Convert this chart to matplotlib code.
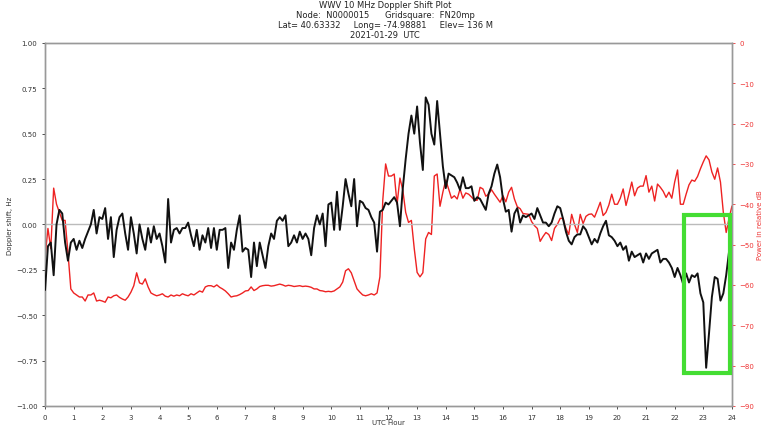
import numpy as np
import matplotlib
matplotlib.use("Agg")
import matplotlib.pyplot as plt
from matplotlib.patches import Rectangle

# ── Data (0.1 h spacing) ─────────────────────────────────────────────────────
hours = np.round(np.arange(0, 24.01, 0.1), 1)

doppler = [
    # 0
    -0.36, -0.12, -0.10, -0.28, 0.00, 0.08, 0.06, -0.10, -0.20, -0.10,
    # 1
    -0.08, -0.14, -0.09, -0.13, -0.08, -0.04, 0.00, 0.08, -0.05, 0.04,
    # 2
    0.03, 0.09, -0.08, 0.04, -0.18, -0.03, 0.04, 0.06, -0.05, -0.14,
    # 3
    0.04, -0.05, -0.16, 0.00, -0.08, -0.14, -0.02, -0.10, -0.01, -0.08,
    # 4
    -0.05, -0.12, -0.21, 0.14, -0.10, -0.03, -0.02, -0.05, -0.02, -0.02,
    # 5
    0.01, -0.06, -0.12, -0.03, -0.14, -0.06, -0.10, -0.02, -0.13, -0.02,
    # 6
    -0.14, -0.03, -0.03, -0.02, -0.24, -0.10, -0.14, -0.03, 0.05, -0.15,
    # 7
    -0.13, -0.14, -0.29, -0.10, -0.23, -0.10, -0.17, -0.24, -0.12, -0.05,
    # 8
    -0.08, 0.02, 0.04, 0.02, 0.05, -0.12, -0.10, -0.06, -0.10, -0.04,
    # 9
    -0.08, -0.05, -0.08, -0.17, -0.02, 0.05, 0.00, 0.06, -0.12, 0.11,
    # 10
    0.12, -0.03, 0.18, -0.03, 0.10, 0.25, 0.17, 0.10, 0.25, -0.01,
    # 11
    0.13, 0.12, 0.09, 0.08, 0.04, 0.01, -0.15, 0.07, 0.08, 0.12,
    # 12
    0.11, 0.13, 0.15, 0.12, -0.01, 0.20, 0.36, 0.50, 0.60, 0.50,
    # 13
    0.65, 0.45, 0.30, 0.70, 0.66, 0.50, 0.44, 0.68, 0.50, 0.32,
    # 14
    0.20, 0.28, 0.27, 0.26, 0.23, 0.19, 0.26, 0.20, 0.20, 0.21,
    # 15
    0.13, 0.15, 0.14, 0.11, 0.08, 0.17, 0.21, 0.28, 0.33, 0.26,
    # 16
    0.14, 0.07, 0.08, -0.04, 0.06, 0.09, 0.01, 0.05, 0.04, 0.05,
    # 17
    0.06, 0.03, 0.09, 0.05, 0.01, 0.01, -0.01, 0.01, 0.06, 0.10,
    # 18
    0.09, 0.03, -0.04, -0.09, -0.11, -0.07, -0.055, -0.055, -0.01, -0.03,
    # 19
    -0.07, -0.11, -0.08, -0.10, -0.05, -0.01, 0.02, -0.06, -0.07, -0.09,
    # 20
    -0.12, -0.10, -0.14, -0.12, -0.20, -0.15, -0.18, -0.17, -0.16, -0.21,
    # 21
    -0.16, -0.19, -0.16, -0.15, -0.14, -0.21, -0.19, -0.19, -0.21, -0.24,
    # 22
    -0.29, -0.24, -0.28, -0.33, -0.27, -0.32, -0.28, -0.29, -0.27, -0.38,
    # 23
    -0.43, -0.79, -0.60, -0.40, -0.29, -0.30, -0.42, -0.38, -0.28, -0.15,
    # 24
    0.05,
]

power_db = [
    # 0
    -53, -46, -51, -36, -40, -42, -44, -44, -52, -61,
    # 1
    -62, -62.5, -63, -63, -64, -62.5, -62.5, -62, -64, -63.8,
    # 2
    -64, -64.3, -63, -63.2, -62.7, -62.5, -63.1, -63.5, -63.8, -63,
    # 3
    -61.8, -60.2, -57, -59.5, -59.8, -58.5, -60.5, -62, -62.4, -62.7,
    # 4
    -62.5, -62.2, -62.8, -63, -62.5, -62.8, -62.5, -62.7, -62.2, -62.5,
    # 5
    -62.7, -62.2, -62.5, -62, -61.5, -61.8, -60.5, -60.2, -60.2, -60.5,
    # 6
    -60, -60.6, -61, -61.5, -62.2, -63, -62.8, -62.7, -62.4, -62,
    # 7
    -61.5, -61.4, -60.5, -61.4, -61, -60.4, -60.2, -60.1, -60.1, -60.3,
    # 8
    -60.2, -60, -59.8, -60, -60.3, -60.1, -60.2, -60.4, -60.3, -60.2,
    # 9
    -60.4, -60.3, -60.4, -60.6, -61, -61, -61.4, -61.5, -61.7, -61.6,
    # 10
    -61.7, -61.5, -61, -60.5, -59.3, -56.5, -56, -57, -59, -61,
    # 11
    -61.8, -62.5, -62.7, -62.5, -62.2, -62.5, -62, -58, -39, -30,
    # 12
    -33, -33, -32.5, -40, -33.5, -36.5, -42, -44.5, -44, -51,
    # 13
    -56.9, -58, -57, -48.6, -47, -47.5, -33, -32.5, -40.5, -37,
    # 14
    -34, -36.2, -38.5, -37.9, -38.7, -36.2, -38.5, -37.2, -37.5, -38.2,
    # 15
    -39, -39, -35.8, -36.2, -38, -37.5, -36.4, -37.5, -38.5, -39.5,
    # 16
    -37.9, -39.4, -37, -35.8, -38.7, -40.6, -41.1, -42.3, -42.4, -42.5,
    # 17
    -44.3, -45.3, -46, -49.2, -48, -47, -47.5, -49, -46, -45,
    # 18
    -43.5, -43.5, -46, -47.5, -42.5, -45, -47, -42.5, -44.8, -43,
    # 19
    -42.5, -42.4, -43.2, -41.4, -39.5, -42.8, -42, -40.2, -37.5, -40,
    # 20
    -40, -38.5, -36.2, -40.3, -37.5, -34.5, -37.9, -36, -35.5, -35.5,
    # 21
    -32.9, -37, -35.5, -39.2, -35, -35.8, -36.8, -38.3, -37, -38.5,
    # 22
    -34.5, -31.5, -40, -40, -37.5, -35.2, -34, -34.3, -33.1, -31.2,
    # 23
    -29.5, -28, -29, -32, -33.8, -31, -34.5, -42, -47, -43.5,
    # 24
    -40.5,
]

# highlighted region (hours, Hz)
box_hours = (22.34, 23.93)
box_hz = (-0.82, 0.05)

title_lines = [
    "WWV 10 MHz Doppler Shift Plot",
    "Node:  N0000015      Gridsquare:  FN20mp",
    "Lat= 40.63332     Long= -74.98881     Elev= 136 M",
    "2021-01-29  UTC",
]

# ── Plot ──────────────────────────────────────────────────────────────────────
fig, ax = plt.subplots(figsize=(7.64, 4.31), dpi=100)
fig.subplots_adjust(left=0.059, right=0.958, top=0.898, bottom=0.056)

ax.axhline(0, color="#bbbbbb", lw=1.0, zorder=1)
ax.plot(hours, doppler, color="#111111", lw=1.4, zorder=3)

ax.set_xlim(0, 24)
ax.set_ylim(-1.0, 1.0)
ax.set_xticks(range(25))
ax.set_yticks(np.arange(-1.0, 1.01, 0.25))
ax.set_yticklabels([f"{v:.2f}".replace("-", "\u2212") for v in np.arange(-1.0, 1.01, 0.25)])
ax.tick_params(labelsize=5, colors="#333333", length=2, width=0.6)
ax.set_xlabel("UTC Hour", fontsize=5, color="#333333", labelpad=1)
ax.xaxis.set_label_coords(0.5, -0.035)
ax.set_ylabel("Doppler shift, Hz", fontsize=5, color="#333333", labelpad=2)

ax2 = ax.twinx()
ax2.plot(hours, power_db, color="#ee2222", lw=1.0, zorder=2)
ax2.set_ylim(-90, 0)
ax2.set_yticks(range(-90, 1, 10))
ax2.tick_params(labelsize=5, colors="#ee3333", length=2, width=0.6)
ax2.set_ylabel("Power in relative dB", fontsize=5, color="#ee3333")
ax2.yaxis.set_label_coords(1.037, 0.5)

for a in (ax, ax2):
    for s in a.spines.values():
        s.set_color("#999999")
        s.set_linewidth(1.0)

# keep doppler trace on top of the power trace
ax.set_zorder(ax2.get_zorder() + 1)
ax.patch.set_visible(False)

ax.add_patch(Rectangle((box_hours[0], box_hz[0]), box_hours[1] - box_hours[0],
                       box_hz[1] - box_hz[0], fill=False, edgecolor="#44dd33",
                       lw=3, zorder=5))

fig.text(0.504, 0.998, "\n".join(title_lines), ha="center", va="top",
         fontsize=6, color="#222222", linespacing=1.15)

plt.savefig("out.png", dpi=100)
